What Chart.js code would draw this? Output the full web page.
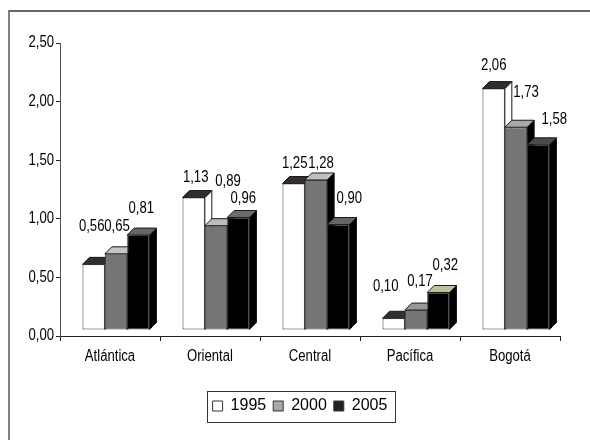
<!DOCTYPE html>
<html>
<head>
<meta charset="utf-8">
<script src="https://cdn.jsdelivr.net/npm/chart.js@4"></script>
<style>
  html, body { margin: 0; padding: 0; background: #fff; }
  #wrap { position: relative; width: 590px; height: 440px; overflow: hidden; }
  #frame { position: absolute; left: 8px; top: 10px; right: 0; bottom: 0;
           border-left: 2px solid #808080; border-top: 2px solid #666; }
  canvas { position: absolute; left: 0; top: 0; }
</style>
</head>
<body>
<div id="wrap"><div id="frame"></div><canvas id="chart" width="590" height="440"></canvas></div>
<script>
const categories = ['Atlántica', 'Oriental', 'Central', 'Pacífica', 'Bogotá'];
const seriesNames = ['1995', '2000', '2005'];
const values1995 = [0.56, 1.13, 1.25, 0.10, 2.06];
const values2000 = [0.65, 0.89, 1.28, 0.17, 1.73];
const values2005 = [0.81, 0.96, 0.90, 0.32, 1.58];

// bar colours, and the top face colour of each bar (they vary in the original)
const frontColors = ['#ffffff', '#777675', '#000000'];
const sideColors = ['#ffffff', '#000000', '#000000'];
const legendColors = ['#ffffff', '#a8a8a8', '#231f1e'];
const topColors = [
  ['#332e2c', '#332e2c', '#332e2c', '#332e2c', '#332e2c'],
  ['#c4c4c4', '#bbbbbb', '#c0c0c0', '#999999', '#a8a8a8'],
  ['#666666', '#6b6b6b', '#666666', '#c0c09a', '#4d4a48'],
];

// where each value label sits, relative to the top of its bar
const labelDx = [
  [-2, 2, 1, -8, 0],
  [1, 12, 5, 4, 10],
  [3, 5, 11, 7, 16],
];
const labelDy = [
  [-38, -20, -20, -32, -23],
  [-27, -44, -16, -28, -35],
  [-26, -19, -26, -27, -25],
];

const SHIFT = 6;   // front face sits up and right of the axis
const DEPTH_X = 7;
const DEPTH_Y = 7;
const TEXT_COLOR = '#000000';
const LEGEND_SHIFT = 20;

const comma = (v) => v.toFixed(2).replace('.', ',');

// No narrow font is installed, so squeeze Liberation Sans by hand
function narrowText(ctx, text, x, y, align) {
  ctx.save();
  ctx.translate(x, y);
  ctx.scale(0.82, 1);
  ctx.font = '16px "Liberation Sans", Arial, sans-serif';
  ctx.fillStyle = TEXT_COLOR;
  ctx.textAlign = align;
  ctx.textBaseline = 'middle';
  ctx.fillText(text, 0, 0);
  ctx.restore();
}

// Side and top faces of one dataset's bars, the old 3D look
function drawFaces(ctx, meta, d) {
  ctx.lineWidth = 1;
  ctx.strokeStyle = '#1a1a1a';
  meta.data.forEach((bar, i) => {
    const l = bar.x - bar.width / 2;
    const r = bar.x + bar.width / 2;
    ctx.fillStyle = sideColors[d];
    ctx.beginPath();
    ctx.moveTo(r, bar.y);
    ctx.lineTo(r + DEPTH_X, bar.y - DEPTH_Y);
    ctx.lineTo(r + DEPTH_X, bar.base - DEPTH_Y);
    ctx.lineTo(r, bar.base);
    ctx.closePath();
    ctx.fill();
    ctx.stroke();
    ctx.fillStyle = topColors[d][i];
    ctx.beginPath();
    ctx.moveTo(l, bar.y);
    ctx.lineTo(l + DEPTH_X, bar.y - DEPTH_Y);
    ctx.lineTo(r + DEPTH_X, bar.y - DEPTH_Y);
    ctx.lineTo(r, bar.y);
    ctx.closePath();
    ctx.fill();
    ctx.stroke();
  });
}

const bars3d = {
  id: 'bars3d',
  afterLayout(chart) {
    chart.legend.left += LEGEND_SHIFT;
    chart.legend.right += LEGEND_SHIFT;
  },
  // Chart.js paints the first dataset last, here it has to go the other way round
  beforeDatasetsDraw(chart) {
    const ctx = chart.ctx;
    ctx.save();
    ctx.translate(SHIFT, -SHIFT);
    chart.data.datasets.forEach((ds, d) => {
      const meta = chart.getDatasetMeta(d);
      drawFaces(ctx, meta, d);
      meta.controller.draw();
    });
    ctx.restore();
    chart.data.datasets.forEach((ds, d) => {
      chart.getDatasetMeta(d).data.forEach((bar, i) => {
        narrowText(ctx, comma(ds.data[i]), bar.x + SHIFT + labelDx[d][i], bar.y - SHIFT + labelDy[d][i], 'center');
      });
    });
    return false;
  },
  afterDraw(chart) {
    const ctx = chart.ctx;
    const { x, y } = chart.scales;
    x.ticks.forEach((t, i) => narrowText(ctx, t.label, x.getPixelForTick(i), x.top + 21, 'center'));
    y.ticks.forEach((t, i) => narrowText(ctx, comma(t.value), y.right - 6, y.getPixelForTick(i), 'right'));
    const lg = chart.legend;
    ctx.save();
    ctx.strokeStyle = '#333333';
    ctx.lineWidth = 1;
    ctx.strokeRect(207.5, lg.top + 0.5, 188, 31);
    ctx.restore();
  },
};

new Chart(document.getElementById('chart'), {
  type: 'bar',
  plugins: [bars3d],
  data: {
    labels: categories,
    datasets: [values1995, values2000, values2005].map((vals, i) => ({
      label: seriesNames[i],
      data: vals,
      backgroundColor: frontColors[i],
      borderColor: '#3a3a3a',
      borderWidth: 1,
      borderSkipped: false,
      categoryPercentage: 0.67,
      barPercentage: 1,
    })),
  },
  options: {
    responsive: false,
    animation: false,
    layout: { padding: { left: 0, right: 30, top: 43, bottom: 16 } },
    plugins: {
      tooltip: { enabled: false },
      legend: {
        position: 'bottom',
        align: 'center',
        labels: {
          boxWidth: 10,
          boxHeight: 10,
          padding: 7,
          color: TEXT_COLOR,
          font: { size: 16, family: '"Liberation Sans", Arial, sans-serif' },
          generateLabels: () => seriesNames.map((name, i) => ({
            text: name,
            fillStyle: legendColors[i],
            strokeStyle: '#333333',
            lineWidth: 1,
            datasetIndex: i,
          })),
        },
      },
    },
    scales: {
      x: {
        grid: { display: true, drawOnChartArea: false, color: '#222', tickLength: 5, offset: true },
        border: { color: '#222', width: 1 },
        ticks: { display: false },
        afterFit(scale) { scale.height = 55; },
      },
      y: {
        min: 0,
        max: 2.5,
        grid: { display: true, drawOnChartArea: false, color: '#222', tickLength: 4 },
        border: { color: '#555', width: 1 },
        ticks: { display: false, stepSize: 0.5 },
        afterFit(scale) { scale.width = 60; },
      },
    },
  },
});
</script>
</body>
</html>
